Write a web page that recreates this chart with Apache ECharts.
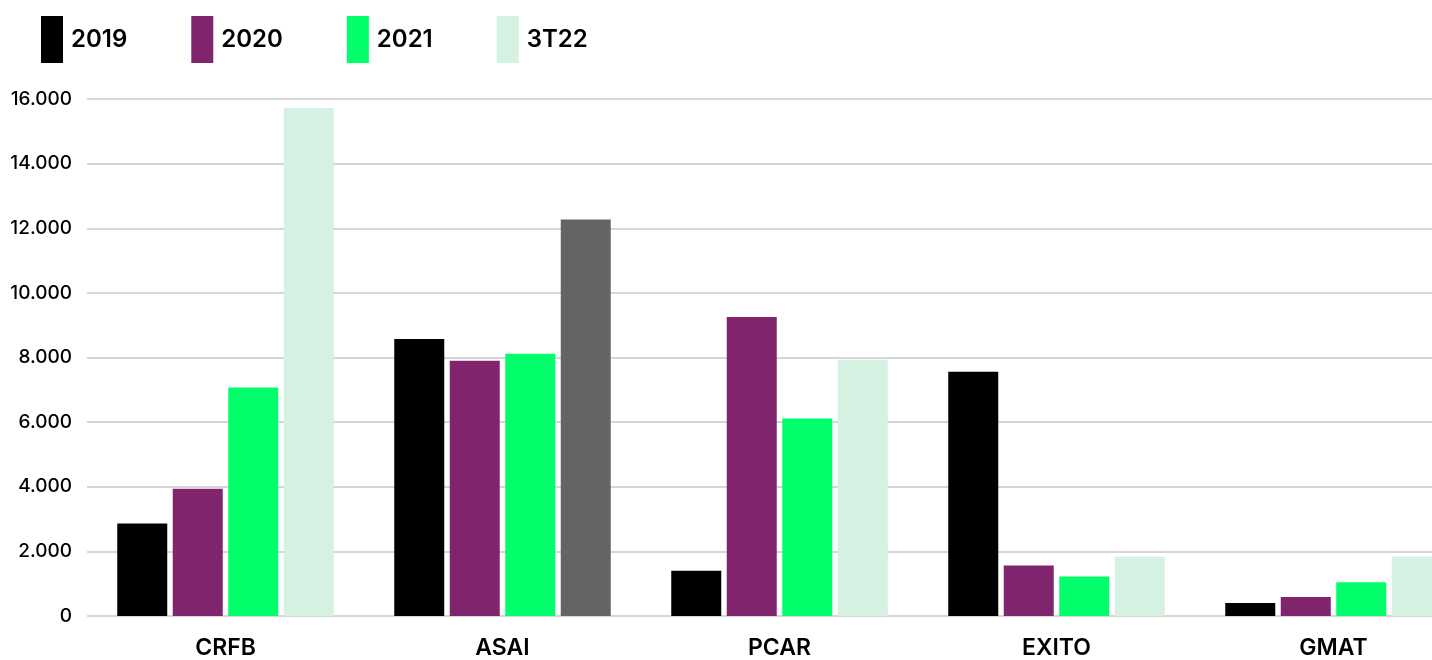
<!DOCTYPE html>
<html>
<head>
<meta charset="utf-8">
<script src="https://cdn.jsdelivr.net/npm/echarts@6/dist/echarts.min.js"></script>
<style>
html,body{margin:0;padding:0;background:#fff;overflow:hidden;width:1432px;height:660px;}
#chart{width:1472px;height:660px;}
</style>
</head>
<body>
<div id="chart"></div>
<script>
const categories = ['CRFB', 'ASAI', 'PCAR', 'EXITO', 'GMAT'];
const seriesNames = ['2019', '2020', '2021', '3T22'];
const values2019 = [2860, 8575, 1400, 7560, 400];
const values2020 = [3940, 7900, 9255, 1560, 590];
const values2021 = [7075, 8115, 6110, 1225, 1045];
const values3T22 = [15725, 12270, 7930, 1840, 1840];
const yTicks = [0, 2000, 4000, 6000, 8000, 10000, 12000, 14000, 16000];

const colors = ['#000000', '#80246e', '#00ff6a', '#d5f1e2'];
const highlightColor = '#646465';
const font = 'Inter';

const chart = echarts.init(document.getElementById('chart'));

function fmt(v) {
  return String(v).replace(/\B(?=(\d{3})+(?!\d))/g, '.');
}

const allValues = [values2019, values2020, values2021, values3T22];
const series = seriesNames.map((name, i) => ({
  name: name,
  type: 'bar',
  barWidth: 50,
  barGap: '11%',
  itemStyle: { color: colors[i] },
  data: allValues[i].map((v, j) => {
    if (i === 3 && categories[j] === 'ASAI') {
      return { value: v, itemStyle: { color: highlightColor } };
    }
    return v;
  }),
  animation: false
}));

chart.setOption({
  animation: false,
  legend: {
    left: 41,
    top: 16,
    padding: 0,
    itemWidth: 22,
    itemHeight: 47,
    itemGap: 64,
    icon: 'rect',
    textStyle: { fontFamily: font, fontSize: 24, fontWeight: 600, color: '#000', padding: [0, 0, 0, 3] },
    data: seriesNames
  },
  grid: {
    left: 87,
    right: 0,
    top: 99,
    bottom: 41,
    containLabel: false
  },
  xAxis: {
    type: 'category',
    data: categories,
    axisLine: { show: false },
    axisTick: { show: false },
    axisLabel: { fontFamily: font, fontSize: 23, fontWeight: 600, color: '#000', margin: 21 }
  },
  yAxis: {
    type: 'value',
    min: yTicks[0],
    max: yTicks[yTicks.length - 1],
    interval: 2000,
    axisLine: { show: false },
    axisTick: { show: false },
    splitLine: { lineStyle: { color: '#c8c8c8', width: 1.5 } },
    axisLabel: {
      fontFamily: font, fontSize: 19, fontWeight: 500, color: '#000', margin: 15,
      formatter: v => fmt(v)
    }
  },
  series: series
});
</script>
</body>
</html>
